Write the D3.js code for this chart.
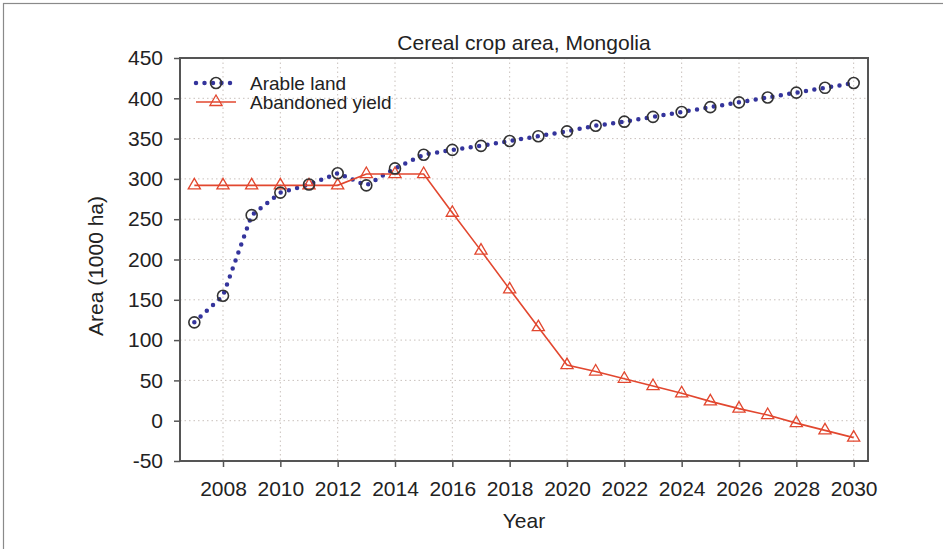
<!DOCTYPE html>
<html>
<head>
<meta charset="utf-8">
<script src="https://cdn.jsdelivr.net/npm/d3@7"></script>
<style>
  html, body { margin: 0; padding: 0; background: #fff; }
  svg { display: block; font-family: "Liberation Sans", Arial, sans-serif; }
</style>
</head>
<body>
<svg id="chart" width="943" height="549"></svg>
<script>
const years = [2007,2008,2009,2010,2011,2012,2013,2014,2015,2016,2017,2018,2019,2020,2021,2022,2023,2024,2025,2026,2027,2028,2029,2030];
const arableLand = [122,155,255,283,293,307,292,313,330,336,341,347,353,359,366,371,377,383,389,395,401,407,413,419];
const abandonedYield = [292,292,292,292,292,292,306,306,306,258,211,163,116,69,61,52,43,34,24,15,7,-3,-12,-21];
const xTicks = [2008,2010,2012,2014,2016,2018,2020,2022,2024,2026,2028,2030];
const yTicks = [-50,0,50,100,150,200,250,300,350,400,450];
const seriesNames = ["Arable land", "Abandoned yield"];
const titleText = "Cereal crop area, Mongolia";
const xTitle = "Year";
const yTitle = "Area (1000 ha)";

const svg = d3.select("#chart");
const L = 180, R = 868, T = 58, B = 461;
const x = d3.scaleLinear().domain([2006.5, 2030.5]).range([L, R]);
const y = d3.scaleLinear().domain([-50, 450]).range([B, T]);

const blue = "#34349c", red = "#e2472f", axisCol = "#555", gridCol = "#c9c1bc";

// outer frame (left/top visible)
svg.append("rect").attr("x", 3.5).attr("y", 3.5).attr("width", 950).attr("height", 560)
  .attr("fill", "none").attr("stroke", "#8a8a8a").attr("stroke-width", 1.2);

// grid
const grid = svg.append("g");
grid.selectAll(".gx").data(xTicks).join("line")
  .attr("x1", d => x(d)).attr("x2", d => x(d)).attr("y1", T).attr("y2", B)
  .attr("stroke", gridCol).attr("stroke-width", 1).attr("stroke-dasharray", "1.5,3");
grid.selectAll(".gy").data(yTicks).join("line")
  .attr("x1", L).attr("x2", R).attr("y1", d => y(d)).attr("y2", d => y(d))
  .attr("stroke", gridCol).attr("stroke-width", 1).attr("stroke-dasharray", "1.5,3");

// axes
const xAxis = svg.append("g").attr("transform", `translate(0,${B})`)
  .call(d3.axisBottom(x).tickValues(xTicks).tickFormat(d => String(d)).tickSize(6).tickPadding(14));
const yAxis = svg.append("g").attr("transform", `translate(${L},0)`)
  .call(d3.axisLeft(y).tickValues(yTicks).tickFormat(d => String(d)).tickSize(6).tickPadding(11));
[xAxis, yAxis].forEach(g => {
  g.select(".domain").remove();
  g.selectAll("line").attr("stroke", axisCol).attr("stroke-width", 1.5);
  g.selectAll("text").attr("fill", "#222").style("font-size", "21px")
    .style("font-family", "'Liberation Sans', Arial, sans-serif");
});

// frame of the plot
svg.append("rect").attr("x", L).attr("y", T).attr("width", R - L).attr("height", B - T)
  .attr("fill", "none").attr("stroke", axisCol).attr("stroke-width", 2);

// lines
const lineA = d3.line().x((d, i) => x(years[i])).y(d => y(d));
svg.append("path").datum(arableLand).attr("d", lineA)
  .attr("fill", "none").attr("stroke", blue).attr("stroke-width", 4.5)
  .attr("stroke-linecap", "round").attr("stroke-dasharray", "0,8.5");
svg.append("path").datum(abandonedYield).attr("d", lineA)
  .attr("fill", "none").attr("stroke", red).attr("stroke-width", 1.6);

const tri = d3.symbol().type(d3.symbolTriangle).size(64);
svg.append("g").selectAll("path").data(abandonedYield).join("path")
  .attr("d", tri)
  .attr("transform", (d, i) => `translate(${x(years[i])},${y(d)})`)
  .attr("fill", "none").attr("stroke", red).attr("stroke-width", 1.3);
svg.append("g").selectAll("circle").data(arableLand).join("circle")
  .attr("cx", (d, i) => x(years[i])).attr("cy", d => y(d)).attr("r", 5.5)
  .attr("fill", "none").attr("stroke", "#333").attr("stroke-width", 1.6);

// legend
const lg = svg.append("g");
const lx1 = 196, lx2 = 236, ly1 = 83, ly2 = 102;
lg.append("line").attr("x1", lx1).attr("x2", lx2).attr("y1", ly1).attr("y2", ly1)
  .attr("stroke", blue).attr("stroke-width", 4.5).attr("stroke-linecap", "round").attr("stroke-dasharray", "0,8.5");
lg.append("circle").attr("cx", (lx1 + lx2) / 2).attr("cy", ly1).attr("r", 5.5)
  .attr("fill", "none").attr("stroke", "#333").attr("stroke-width", 1.6);
lg.append("line").attr("x1", lx1).attr("x2", lx2).attr("y1", ly2).attr("y2", ly2)
  .attr("stroke", red).attr("stroke-width", 1.6);
lg.append("path").attr("d", tri).attr("transform", `translate(${(lx1 + lx2) / 2},${ly2})`)
  .attr("fill", "none").attr("stroke", red).attr("stroke-width", 1.3);
lg.selectAll("text").data(seriesNames).join("text")
  .attr("x", 250).attr("y", (d, i) => [ly1, ly2][i]).attr("dy", "0.35em")
  .attr("fill", "#222").style("font-size", "19px").text(d => d);

// titles
svg.append("text").attr("x", (L + R) / 2).attr("y", 50).attr("text-anchor", "middle")
  .attr("fill", "#222").style("font-size", "21px").text(titleText);
svg.append("text").attr("x", (L + R) / 2).attr("y", 528).attr("text-anchor", "middle")
  .attr("fill", "#222").style("font-size", "21px").text(xTitle);
svg.append("text").attr("transform", `translate(103,266) rotate(-90)`).attr("text-anchor", "middle")
  .attr("fill", "#222").style("font-size", "21px").text(yTitle);
</script>
</body>
</html>
